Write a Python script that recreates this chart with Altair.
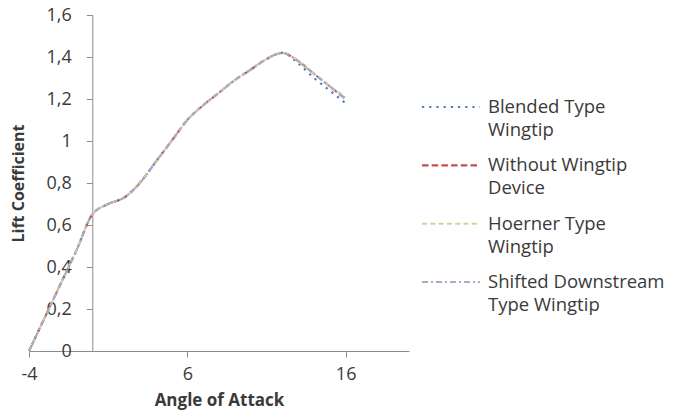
import altair as alt
import pandas as pd

angles = list(range(-4, 17))
blended = [0.00, 0.16, 0.32, 0.48, 0.65, 0.70, 0.73, 0.80, 0.90, 1.00, 1.10, 1.17, 1.23, 1.29, 1.34, 1.39, 1.42, 1.37, 1.30, 1.24, 1.18]
without = [0.00, 0.16, 0.32, 0.48, 0.65, 0.70, 0.73, 0.80, 0.90, 1.00, 1.10, 1.17, 1.23, 1.29, 1.34, 1.39, 1.42, 1.38, 1.32, 1.26, 1.20]
hoerner = [0.00, 0.16, 0.32, 0.48, 0.65, 0.70, 0.73, 0.80, 0.90, 1.00, 1.10, 1.17, 1.23, 1.29, 1.34, 1.39, 1.42, 1.38, 1.32, 1.26, 1.21]
shifted = [0.00, 0.16, 0.32, 0.48, 0.65, 0.70, 0.73, 0.80, 0.90, 1.00, 1.10, 1.17, 1.23, 1.29, 1.34, 1.39, 1.42, 1.38, 1.32, 1.26, 1.20]

series_names = ["Blended Type\nWingtip", "Without Wingtip\nDevice", "Hoerner Type\nWingtip", "Shifted Downstream\nType Wingtip"]
series_values = [blended, without, hoerner, shifted]
series_colors = ["#4F7FC0", "#C0504D", "#D9CFA3", "#A3AFC6"]
series_dash = [[2.2, 5], [6.5, 3.2], [5, 3.3], [6, 3, 2, 3]]
series_widths = [2.2, 2, 1.2, 1.5]
draw_order = [2, 3, 0, 1]

x_ticks = [-4, 6, 16]
y_ticks = [0, 0.2, 0.4, 0.6, 0.8, 1.0, 1.2, 1.4, 1.6]

rows = []
for i, (name, vals) in enumerate(zip(series_names, series_values)):
    for a, v in zip(angles, vals):
        rows.append({"angle": a, "cl": v, "series": name, "z": draw_order[i]})
df = pd.DataFrame(rows)
leg_df = pd.DataFrame({"series": series_names, "idx": list(range(len(series_names)))})

FONT = "Open Sans"
TXT = "#3A3A3A"

color_enc = alt.Color("series:N", scale=alt.Scale(domain=series_names, range=series_colors), legend=None)
dash_enc = alt.StrokeDash("series:N", scale=alt.Scale(domain=series_names, range=series_dash), legend=None)
width_enc = alt.StrokeWidth("series:N", scale=alt.Scale(domain=series_names, range=series_widths), legend=None)

lines = alt.Chart(df).mark_line(interpolate="monotone").encode(
    x=alt.X("angle:Q",
            scale=alt.Scale(domain=[-4, 20], nice=False, zero=False),
            axis=alt.Axis(values=x_ticks, title="Angle of Attack", grid=False,
                          tickSize=6, labelPadding=8, titlePadding=9, labelFlush=False,
                          labelFontSize=18, titleFontSize=17, titleFontWeight="bold",
                          labelExpr="datum.value < 0 ? '-' + abs(datum.value) : '' + datum.value")),
    y=alt.Y("cl:Q",
            scale=alt.Scale(domain=[0, 1.6], nice=False),
            axis=alt.Axis(values=y_ticks, title="Lift Coefficient", grid=False,
                          offset=-63.3, tickSize=6, labelPadding=15, titlePadding=20,
                          labelFontSize=18, titleFontSize=16, titleFontWeight="bold",
                          labelExpr="replace(format(datum.value, '.1~f'), '.', ',')")),
    color=color_enc,
    strokeDash=dash_enc,
    strokeWidth=width_enc,
    detail="z:O",
)

leg_y = alt.Y("idx:Q", scale=alt.Scale(domain=[0, 3], range=[92, 267]), axis=None)

leg_rules = alt.Chart(leg_df).mark_rule().encode(
    x=alt.value(393), x2=alt.value(451), y=leg_y,
    color=color_enc, strokeDash=dash_enc, strokeWidth=width_enc,
)

leg_text = alt.Chart(leg_df).mark_text(
    align="left", baseline="alphabetic", dy=6, lineBreak="\n", lineHeight=23,
    fontSize=18.5, font=FONT, color=TXT,
).encode(x=alt.value(459), y=leg_y, text="series:N")

chart = alt.layer(lines, leg_rules, leg_text).resolve_scale(
    y="independent"
).properties(
    width=380, height=336,
    background="white",
    autosize=alt.AutoSizeParams(type="none"),
    padding={"left": 21, "top": 7, "right": 256, "bottom": 61},
).configure_view(stroke=None, strokeWidth=0).configure_axis(
    domainColor="#8C8C8C", tickColor="#8C8C8C", labelColor=TXT, titleColor=TXT,
    labelFont=FONT, titleFont=FONT,
)

chart.save("out.html", embed_options={"renderer": "svg", "actions": False})
